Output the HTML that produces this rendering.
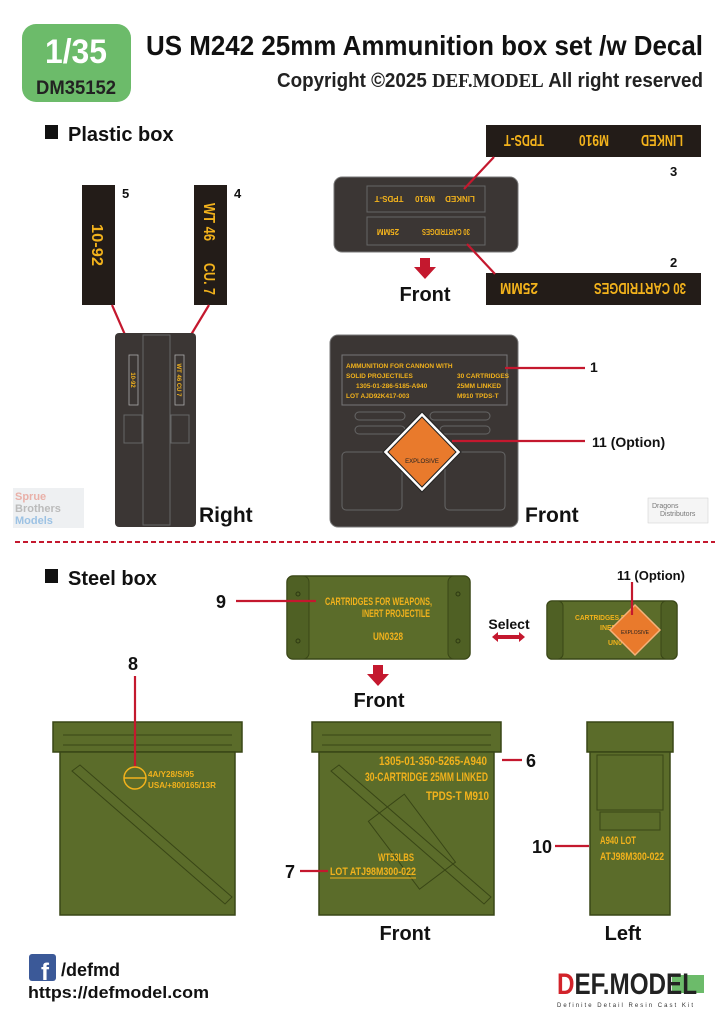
<!DOCTYPE html>
<html><head><meta charset="utf-8"><style>
html,body{margin:0;padding:0;background:#fff}
svg{display:block}
text{font-family:"Liberation Sans",sans-serif}
.b{font-weight:bold}
.y{fill:#f2b21c;font-weight:bold}
.r{stroke:#c4182e;stroke-width:2.2;fill:none}
</style></head><body>
<svg width="720" height="1018" viewBox="0 0 720 1018" xmlns="http://www.w3.org/2000/svg">
<!-- header -->
<rect x="22" y="24" width="109" height="78" rx="14" fill="#6cbb6a"/>
<text x="76" y="63" text-anchor="middle" class="b" font-size="34" fill="#fff" textLength="62" lengthAdjust="spacingAndGlyphs">1/35</text>
<text x="76" y="94" text-anchor="middle" class="b" font-size="19" fill="#222" textLength="80" lengthAdjust="spacingAndGlyphs">DM35152</text>
<text x="146" y="55" class="b" font-size="28" fill="#111" textLength="557" lengthAdjust="spacingAndGlyphs">US M242 25mm Ammunition box set /w Decal</text>
<text x="277" y="87" class="b" font-size="20" fill="#222" textLength="426" lengthAdjust="spacingAndGlyphs">Copyright ©2025 <tspan font-family="Liberation Serif">DEF.MODEL</tspan> All right reserved</text>

<!-- plastic box section -->
<rect x="45" y="125" width="13" height="14" fill="#111"/>
<text x="68" y="141" class="b" font-size="20" fill="#111">Plastic box</text>

<!-- strip 3 -->
<rect x="486" y="125" width="215" height="32" fill="#231c18"/>
<text transform="translate(524,141) rotate(180)" y="6" text-anchor="middle" class="y" font-size="16" textLength="40" lengthAdjust="spacingAndGlyphs">TPDS-T</text>
<text transform="translate(594,141) rotate(180)" y="6" text-anchor="middle" class="y" font-size="16" textLength="30" lengthAdjust="spacingAndGlyphs">M910</text>
<text transform="translate(662,141) rotate(180)" y="6" text-anchor="middle" class="y" font-size="16" textLength="42" lengthAdjust="spacingAndGlyphs">LINKED</text>
<text x="670" y="176" class="b" font-size="13" fill="#111">3</text>
<!-- strip 2 -->
<rect x="486" y="273" width="215" height="32" fill="#231c18"/>
<text transform="translate(519,289) rotate(180)" y="6" text-anchor="middle" class="y" font-size="16" textLength="38" lengthAdjust="spacingAndGlyphs">25MM</text>
<text transform="translate(640,289) rotate(180)" y="6" text-anchor="middle" class="y" font-size="16" textLength="92" lengthAdjust="spacingAndGlyphs">30 CARTRIDGES</text>
<text x="670" y="267" class="b" font-size="13" fill="#111">2</text>
<!-- strips 5,4 -->
<rect x="82" y="185" width="33" height="120" fill="#231c18"/>
<text transform="translate(98,245) rotate(90)" y="6" text-anchor="middle" class="y" font-size="16" textLength="42" lengthAdjust="spacingAndGlyphs">10-92</text>
<text x="122" y="198" class="b" font-size="13" fill="#111">5</text>
<rect x="194" y="185" width="33" height="120" fill="#231c18"/>
<text transform="translate(210,222) rotate(90)" y="6" text-anchor="middle" class="y" font-size="16" textLength="38" lengthAdjust="spacingAndGlyphs">WT 46</text>
<text transform="translate(210,279) rotate(90)" y="6" text-anchor="middle" class="y" font-size="16" textLength="32" lengthAdjust="spacingAndGlyphs">CU. 7</text>
<text x="234" y="198" class="b" font-size="13" fill="#111">4</text>

<!-- top plastic box -->
<rect x="334" y="177" width="184" height="75" rx="8" fill="#3b3634" stroke="#777" stroke-width="1"/>
<rect x="367" y="186" width="118" height="26" fill="none" stroke="#666"/>
<rect x="367" y="217" width="118" height="28" fill="none" stroke="#666"/>
<text transform="translate(389,199) rotate(180)" y="3" text-anchor="middle" class="y" font-size="8">TPDS-T</text>
<text transform="translate(425,199) rotate(180)" y="3" text-anchor="middle" class="y" font-size="8">M910</text>
<text transform="translate(460,199) rotate(180)" y="3" text-anchor="middle" class="y" font-size="8">LINKED</text>
<text transform="translate(388,232) rotate(180)" y="3" text-anchor="middle" class="y" font-size="8">25MM</text>
<text transform="translate(446,232) rotate(180)" y="3" text-anchor="middle" class="y" font-size="8" textLength="48" lengthAdjust="spacingAndGlyphs">30 CARTRIDGES</text>
<line x1="464" y1="189" x2="494" y2="157" class="r"/>
<line x1="467" y1="244" x2="495" y2="274" class="r"/>
<path d="M420 258h10v9h6l-11 12-11-12h6z" fill="#c4182e"/>
<text x="425" y="301" text-anchor="middle" class="b" font-size="20" fill="#111">Front</text>

<!-- right plastic box -->
<line x1="112" y1="305" x2="133" y2="353" class="r"/>
<line x1="209" y1="305" x2="180" y2="353" class="r"/>
<rect x="115" y="333" width="81" height="194" rx="4" fill="#3b3634"/>
<rect x="129" y="355" width="9" height="50" fill="none" stroke="#aaa" stroke-width="0.8"/>
<rect x="175" y="355" width="9" height="50" fill="none" stroke="#aaa" stroke-width="0.8"/>
<rect x="143" y="335" width="27" height="190" fill="none" stroke="#666"/>
<rect x="124" y="415" width="18" height="28" fill="none" stroke="#666"/>
<rect x="171" y="415" width="18" height="28" fill="none" stroke="#666"/>
<text transform="translate(133,380) rotate(90)" y="2" text-anchor="middle" class="y" font-size="6">10-92</text>
<text transform="translate(179,380) rotate(90)" y="2" text-anchor="middle" class="y" font-size="6">WT 46  CU 7</text>
<text x="199" y="522" class="b" font-size="21" fill="#111">Right</text>

<!-- front plastic box -->
<rect x="330" y="335" width="188" height="192" rx="8" fill="#3b3634" stroke="#777"/>
<rect x="342" y="355" width="165" height="50" fill="none" stroke="#777"/>
<text x="346" y="368" class="y" font-size="6.5">AMMUNITION FOR CANNON WITH</text>
<text x="346" y="378" class="y" font-size="6.5">SOLID PROJECTILES</text>
<text x="356" y="388" class="y" font-size="6.5">1305-01-286-5185-A940</text>
<text x="346" y="398" class="y" font-size="6.5">LOT   AJD92K417-003</text>
<text x="457" y="378" class="y" font-size="6.5">30 CARTRIDGES</text>
<text x="457" y="388" class="y" font-size="6.5">25MM  LINKED</text>
<text x="457" y="398" class="y" font-size="6.5">M910  TPDS-T</text>
<g stroke="#666" fill="none"><rect x="355" y="412" width="50" height="8" rx="4"/><rect x="430" y="412" width="60" height="8" rx="4"/><rect x="355" y="426" width="50" height="8" rx="4"/><rect x="440" y="426" width="50" height="8" rx="4"/><rect x="342" y="452" width="60" height="58" rx="4"/><rect x="445" y="452" width="60" height="58" rx="4"/></g>
<polygon points="422,412 461,452 422,492 383,452" fill="#fff" stroke="#222"/>
<polygon points="422,417 456,452 422,487 388,452" fill="#e97a2c" stroke="#222"/>
<text x="422" y="463" text-anchor="middle" font-size="6" fill="#222">EXPLOSIVE</text>
<line x1="505" y1="368" x2="585" y2="368" class="r"/>
<text x="590" y="372" class="b" font-size="14" fill="#111">1</text>
<line x1="452" y1="441" x2="585" y2="441" class="r"/>
<text x="592" y="447" class="b" font-size="14" fill="#111">11 (Option)</text>
<text x="525" y="522" class="b" font-size="21" fill="#111">Front</text>
<!-- watermarks -->
<rect x="13" y="488" width="71" height="40" fill="#eef0f2"/>
<text x="15" y="500" font-size="11" class="b" fill="#e9b0a8">Sprue</text>
<text x="15" y="512" font-size="11" class="b" fill="#bbb">Brothers</text>
<text x="15" y="524" font-size="11" class="b" fill="#9cc2e4">Models</text>
<rect x="648" y="498" width="60" height="25" fill="#f5f5f5" stroke="#ccc" stroke-width="0.5"/>
<text x="652" y="508" font-size="7" fill="#777">Dragons</text>
<text x="660" y="516" font-size="7" fill="#777">Distributors</text>

<line x1="15" y1="542" x2="715" y2="542" stroke="#c4182e" stroke-width="2" stroke-dasharray="5,3"/>

<!-- steel section -->
<rect x="45" y="569" width="13" height="14" fill="#111"/>
<text x="68" y="585" class="b" font-size="20" fill="#111">Steel box</text>

<!-- top steel box -->
<rect x="287" y="576" width="183" height="83" rx="6" fill="#5b6c2a" stroke="#394616" stroke-width="1.5"/>
<rect x="287" y="576" width="22" height="83" rx="6" fill="#4f6024" stroke="#394616"/>
<rect x="448" y="576" width="22" height="83" rx="6" fill="#4f6024" stroke="#394616"/>
<circle cx="298" cy="594" r="2" fill="none" stroke="#2e3a12"/><circle cx="298" cy="641" r="2" fill="none" stroke="#2e3a12"/>
<circle cx="458" cy="594" r="2" fill="none" stroke="#2e3a12"/><circle cx="458" cy="641" r="2" fill="none" stroke="#2e3a12"/>
<text x="325" y="605" class="y" font-size="11" textLength="107" lengthAdjust="spacingAndGlyphs">CARTRIDGES FOR WEAPONS,</text>
<text x="362" y="617" class="y" font-size="11" textLength="68" lengthAdjust="spacingAndGlyphs">INERT PROJECTILE</text>
<text x="373" y="640" class="y" font-size="11" textLength="30" lengthAdjust="spacingAndGlyphs">UN0328</text>
<line x1="236" y1="601" x2="316" y2="601" class="r"/>
<text x="216" y="608" class="b" font-size="18" fill="#111">9</text>
<text x="509" y="629" text-anchor="middle" class="b" font-size="14" fill="#111">Select</text>
<path d="M492 637l6-5v3h21v-3l6 5-6 5v-3h-21v3z" fill="#c4182e"/>
<!-- small steel box -->
<rect x="547" y="601" width="130" height="58" rx="5" fill="#5b6c2a" stroke="#394616" stroke-width="1.5"/>
<rect x="547" y="601" width="16" height="58" rx="5" fill="#4f6024" stroke="#394616"/>
<rect x="661" y="601" width="16" height="58" rx="5" fill="#4f6024" stroke="#394616"/>
<text x="575" y="620" class="y" font-size="7" textLength="60" lengthAdjust="spacingAndGlyphs">CARTRIDGES FOR</text>
<text x="600" y="630" class="y" font-size="7">INERT</text>
<text x="608" y="645" class="y" font-size="7">UN0</text>
<polygon points="635,605 660,630 635,655 610,630" fill="#e97a2c" stroke="#f6b27a" stroke-width="1.5"/>
<text x="635" y="634" text-anchor="middle" font-size="5" fill="#222">EXPLOSIVE</text>
<line x1="632" y1="582" x2="632" y2="615" class="r"/>
<text x="651" y="580" text-anchor="middle" class="b" font-size="13" fill="#111">11 (Option)</text>
<path d="M373 665h10v9h6l-11 12-11-12h6z" fill="#c4182e"/>
<text x="379" y="707" text-anchor="middle" class="b" font-size="20" fill="#111">Front</text>

<!-- big steel boxes -->
<g id="bx">
<rect x="53" y="722" width="189" height="30" fill="#5b6c2a" stroke="#394616" stroke-width="1.5"/>
<rect x="60" y="752" width="175" height="163" fill="#5b6c2a" stroke="#394616" stroke-width="1.5"/>
<line x1="63" y1="735" x2="232" y2="735" stroke="#394616"/><line x1="63" y1="745" x2="232" y2="745" stroke="#394616"/>
<polygon points="72,771 80,765 232,897 225,904" fill="none" stroke="#394616"/>
</g>
<line x1="135" y1="676" x2="135" y2="768" class="r"/>
<text x="128" y="670" class="b" font-size="18" fill="#111">8</text>
<circle cx="135" cy="778" r="11" fill="none" stroke="#f2b21c" stroke-width="1.5"/>
<line x1="124" y1="778" x2="146" y2="778" stroke="#f2b21c" stroke-width="1.5"/>
<text x="148" y="777" class="y" font-size="8" textLength="46" lengthAdjust="spacingAndGlyphs">4A/Y28/S/95</text>
<text x="148" y="788" class="y" font-size="8" textLength="68" lengthAdjust="spacingAndGlyphs">USA/+800165/13R</text>

<use href="#bx" transform="translate(259 0)"/>
<rect x="388" y="800" width="45" height="85" fill="none" stroke="#394616" transform="rotate(-37 410 840)"/>
<text x="379" y="765" class="y" font-size="12" textLength="108" lengthAdjust="spacingAndGlyphs">1305-01-350-5265-A940</text>
<text x="365" y="781" class="y" font-size="12" textLength="123" lengthAdjust="spacingAndGlyphs">30-CARTRIDGE 25MM LINKED</text>
<text x="426" y="800" class="y" font-size="12" textLength="63" lengthAdjust="spacingAndGlyphs">TPDS-T M910</text>
<text x="378" y="861" class="y" font-size="11" textLength="36" lengthAdjust="spacingAndGlyphs">WT53LBS</text>
<text x="330" y="875" class="y" font-size="11" textLength="86" lengthAdjust="spacingAndGlyphs">LOT ATJ98M300-022</text>
<line x1="330" y1="878" x2="416" y2="878" stroke="#f2b21c"/>
<line x1="502" y1="760" x2="522" y2="760" class="r"/>
<text x="526" y="767" class="b" font-size="18" fill="#111">6</text>
<line x1="300" y1="871" x2="328" y2="871" class="r"/>
<text x="285" y="878" class="b" font-size="18" fill="#111">7</text>

<!-- left side box -->
<rect x="587" y="722" width="86" height="30" fill="#5b6c2a" stroke="#394616" stroke-width="1.5"/>
<rect x="590" y="752" width="80" height="163" fill="#5b6c2a" stroke="#394616" stroke-width="1.5"/>
<rect x="597" y="755" width="66" height="55" fill="none" stroke="#394616"/>
<rect x="600" y="812" width="60" height="18" fill="none" stroke="#394616"/>
<text x="600" y="844" class="y" font-size="11" textLength="36" lengthAdjust="spacingAndGlyphs">A940 LOT</text>
<text x="600" y="860" class="y" font-size="11" textLength="64" lengthAdjust="spacingAndGlyphs">ATJ98M300-022</text>
<line x1="555" y1="846" x2="589" y2="846" class="r"/>
<text x="532" y="853" class="b" font-size="18" fill="#111">10</text>

<text x="405" y="940" text-anchor="middle" class="b" font-size="20" fill="#111">Front</text>
<text x="623" y="940" text-anchor="middle" class="b" font-size="20" fill="#111">Left</text>

<!-- footer -->
<rect x="29" y="954" width="27" height="27" rx="3" fill="#3b5998"/>
<text x="45" y="980" text-anchor="middle" class="b" font-size="24" fill="#fff">f</text>
<text x="61" y="976" class="b" font-size="18" fill="#111">/defmd</text>
<text x="28" y="998" class="b" font-size="17" fill="#111" textLength="181" lengthAdjust="spacingAndGlyphs">https://defmodel.com</text>
<rect x="672" y="975" width="32" height="18" fill="#6cbb6a"/>
<text x="557" y="994" font-family="Liberation Serif" font-weight="bold" font-size="30" fill="#222" textLength="140" lengthAdjust="spacingAndGlyphs"><tspan fill="#d2232a">D</tspan>EF.MODEL</text>
<text x="557" y="1007" font-family="Liberation Mono" font-size="6" fill="#333" textLength="136" lengthAdjust="spacing">Definite Detail Resin Cast Kit</text>
</svg>
</body></html>
